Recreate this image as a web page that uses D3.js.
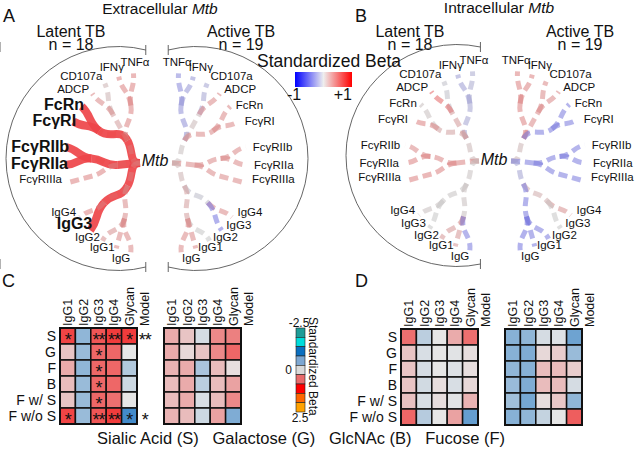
<!DOCTYPE html>
<html><head><meta charset="utf-8">
<script src="https://cdn.jsdelivr.net/npm/d3@7"></script>
<style>body{margin:0;background:#fff}svg{display:block}text{font-family:"Liberation Sans",Arial,sans-serif;fill:#111}</style>
</head><body><svg id="c" width="640" height="449"></svg>
<script>
// ---------- DATA ----------
const leafNames = ["TNFα","IFNγ","CD107a","ADCP","FcRn","FcγRI","FcγRIIb","FcγRIIa","FcγRIIIa","IgG4","IgG3","IgG2","IgG1","IgG"];
const treeGroups = [[["TNFα","IFNγ"],["CD107a","ADCP"],["FcRn","FcγRI"]],[["FcγRIIb","FcγRIIa"],["FcγRIIIa"]],[["IgG4","IgG3"],["IgG2","IgG1","IgG"]]];
const betaExtraLatent = [0.5,0.5,0.15,0.45,0.9,0.9,0.9,0.9,0.5,0.5,0.9,0.4,0.45,0.45];
const sigExtraLatent  = ["FcRn","FcγRI","FcγRIIb","FcγRIIa","IgG3"];
const betaExtraActive = [-0.45,-0.35,-0.25,0.45,0.45,0.45,0.45,0.45,0.45,0.45,-0.6,0.0,0.45,0.45];
const sigExtraActive  = [];
const betaIntraLatent = [-0.2,-0.3,-0.05,0.7,0.05,0.5,0.45,0.5,0.5,0.05,0.0,0.35,0.35,-0.55];
const sigIntraLatent  = [];
const betaIntraActive = [0.5,0.5,0.45,0.45,-0.55,-0.55,-0.55,-0.55,-0.55,0.4,0.0,-0.55,-0.55,-0.6];
const sigIntraActive  = [];

const hmRows = ["S","G","F","B","F w/ S","F w/o S"];
const hmCols = ["IgG1","IgG2","IgG3","IgG4","Glycan","Model"];
const hmC1 = [[0.95,-0.5,0.85,1.0,1.0],[0.2,-0.45,0.75,0.75,0.0],[0.35,-0.5,0.75,0.75,-0.3],[0.25,-0.45,0.75,0.75,-0.15],[0.2,-0.45,0.75,0.7,0.0],[0.95,-0.45,0.85,1.0,-0.95]];
const starsC1 = [["*","","**","**","*","**"],["","","*","","",""],["","","*","","",""],["","","*","","",""],["","","*","","",""],["*","","**","**","*","*"]];
const hmC2 = [[0.35,0.2,-0.1,0.55,0.6],[0.35,0.08,0.2,0.55,0.75],[0.3,0.35,-0.35,0.25,0.05],[0.25,0.35,-0.25,0.25,0.4],[0.25,0.35,-0.08,0.25,0.55],[0.3,0.25,-0.15,0.4,-0.6]];
const hmD1 = [[0.7,-0.25,0.0,0.35,0.7],[0.2,-0.08,0.0,-0.03,0.05],[0.2,-0.1,0.0,-0.05,0.05],[0.2,-0.12,0.05,-0.08,0.08],[0.22,-0.08,0.05,-0.03,0.3],[0.75,-0.28,0.0,0.4,-0.75]];
const hmD2 = [[-0.55,-0.5,-0.1,-0.05,-0.7],[-0.55,-0.6,0.08,0.15,-0.45],[-0.5,-0.55,0.25,0.25,0.15],[-0.45,-0.6,0.25,0.25,-0.1],[-0.4,-0.65,0.05,0.18,-0.5],[-0.55,-0.5,-0.2,0.0,0.8]];
const colorbarColors = ["#1d9c98","#00dcdc","#0a6fc0","#7da7d2","#d9d9d9","#e86b6b","#ff0000","#ff6600","#ffa200"];
const colorbarTicks = ["-2.5","0","2.5"];
const bottomCaption = "Sialic Acid (S)   Galactose (G)   GlcNAc (B)   Fucose (F)";

// ---------- DRAW ----------
const svg = d3.select("#c");
function txt(x, y, s, size, o = {}) {
  const t = svg.append("text").attr("x", x).attr("y", y).attr("font-size", size)
    .attr("text-anchor", o.anchor || "start").text(s);
  if (o.weight) t.attr("font-weight", o.weight);
  if (o.style) t.attr("font-style", o.style);
  return t;
}
function titleWithMtb(x, y, pre) {
  const t = svg.append("text").attr("x", x).attr("y", y).attr("font-size", 15.5).attr("text-anchor", "middle");
  t.append("tspan").text(pre);
  t.append("tspan").attr("font-style", "italic").text("Mtb");
}

txt(3, 22, "A", 18);
txt(355, 22, "B", 18);
txt(2, 287, "C", 18);
txt(355, 287, "D", 18);
titleWithMtb(160, 14, "Extracellular ");
titleWithMtb(499, 13, "Intracellular ");
[[71, "Latent TB", "n = 18"], [241, "Active TB", "n = 19"], [410, "Latent TB", "n = 18"], [580, "Active TB", "n = 19"]]
  .forEach(([x, a, b]) => { txt(x, 36.5, a, 16, {anchor: "middle"}); txt(x, 50, b, 16, {anchor: "middle"}); });

function drawArc(cx, cy, r, yTop, yBot, side) {
  const dxT = side * Math.sqrt(r * r - (yTop - cy) ** 2), dxB = side * Math.sqrt(r * r - (yBot - cy) ** 2);
  const aTop = Math.atan2(yTop - cy, dxT), aBot = Math.atan2(yBot - cy, dxB);
  const p = d3.path();
  p.arc(cx, cy, r, aTop, aBot, side > 0);
  svg.append("path").attr("d", p.toString()).attr("fill", "none").attr("stroke", "#555").attr("stroke-width", 0.9);
  [[cx + dxT, yTop], [cx + dxB, yBot]].forEach(([x, y]) => svg.append("line").attr("x1", x).attr("x2", x)
    .attr("y1", y - 5).attr("y2", y + 5).attr("stroke", "#555").attr("stroke-width", 0.9));
}
drawArc(118, 158.5, 112, 50, 267, 1);
drawArc(196, 158.5, 112, 50, 267, -1);
drawArc(457, 155.5, 111, 47, 264, 1);
drawArc(529, 155.5, 108, 47, 264, -1);

// legend gradient
const treeColor = d3.scaleLinear().domain([-1, 0, 1]).range(["#3c3cf0", "#c4c4c4", "#f03c3c"]);
const defs = svg.append("defs");
const lg = defs.append("linearGradient").attr("id", "sb");
[[0, "#0000ff"], [0.5, "#eeeeee"], [1, "#ff0000"]].forEach(([o, c]) => lg.append("stop").attr("offset", o).attr("stop-color", c));
txt(257, 67, "Standardized Beta", 17.5);
svg.append("rect").attr("x", 295).attr("y", 72).attr("width", 57).attr("height", 15).attr("fill", "url(#sb)");
txt(287, 100, "-1", 16);
txt(352, 100, "+1", 16, {anchor: "end"});

// trees
const groupGap = [1.5, 2.1];
function drawHalf(cx, cy, side, betas, sigs) {
  const rx = 75, ry = 90;
  const betaOf = new Map(leafNames.map((n, i) => [n, betas[i]]));
  const root = d3.hierarchy({children: treeGroups.map((grp, gi) => ({gi, children: grp.map(sub => ({children: sub.map(n => ({name: n}))}))}))});
  root.each(d => {
    const ls = d.leaves();
    d.beta = d3.mean(ls, l => betaOf.get(l.data.name));
    d.sig = ls.some(l => sigs.includes(l.data.name));
  });
  const topOf = d => d.ancestors().find(a => a.depth === 1);
  d3.cluster().size([1, 1]).separation((a, b) => {
    const ta = topOf(a).data.gi, tb = topOf(b).data.gi;
    return ta === tb ? 1 : groupGap[Math.min(ta, tb)];
  })(root);
  const ang = d3.scaleLinear().domain(d3.extent(root.leaves(), d => d.x)).range([5 * Math.PI / 180, 173 * Math.PI / 180]);
  const rad = d3.scaleLinear().domain([0, 1 / 3, 2 / 3, 1]).range([0, 0.3, 0.65, 1]);
  const proj = (a, r) => [cx + side * rx * r * Math.sin(a), cy - ry * r * Math.cos(a)];
  const linkPath = l => {
    const a0 = ang(l.source.x), a1 = ang(l.target.x), r0 = rad(l.source.y), r1 = rad(l.target.y), rm = (r0 + r1) / 2;
    const p = d3.path();
    p.moveTo(...proj(a0, r0));
    p.bezierCurveTo(...proj(a0, rm), ...proj(a1, rm), ...proj(a1, r1));
    return p.toString();
  };
  const links = root.links();
  const g = svg.append("g");
  g.selectAll("path.sig").data(links.filter(l => l.target.sig)).join("path")
    .attr("d", linkPath).attr("fill", "none").attr("stroke", "#ee4449").attr("stroke-opacity", 0.92)
    .attr("stroke-width", 8);
  g.selectAll("path.ns").data(links.filter(l => !(l.target.height === 0 && l.target.sig))).join("path")
    .attr("d", linkPath).attr("fill", "none").attr("stroke", d => treeColor(d.target.beta))
    .attr("stroke-opacity", 0.55).attr("stroke-width", 5).attr("stroke-dasharray", "9,5");
  root.leaves().forEach(l => {
    const a = ang(l.x), bold = l.sig;
    const [px, py] = proj(a, 1);
    const s = Math.abs(Math.sin(a)), c = Math.cos(a);
    const t = svg.append("text").attr("font-size", bold ? 16 : 11.5).attr("font-weight", bold ? "bold" : null).text(l.data.name);
    const w = t.node().getComputedTextLength();
    const f = c > 0 ? Math.min(1, 0.3 + 1.5 * s) : 1;
    const gap = bold ? -3 : (side < 0 ? 5 : 7);
    const start = side < 0 ? px - gap * s - w * f : px + gap * s - w * (1 - f);
    const base = c > 0 ? py + (bold ? 5 : 4) - 12 * Math.pow(c, 4)
                       : py + 4 - 5 * Math.min(1, -c / 0.3) + 12 * Math.pow(-c, 20);
    t.attr("x", start).attr("y", base);
  });
}
drawHalf(140, 163, -1, betaExtraLatent, sigExtraLatent);
drawHalf(172, 163, 1, betaExtraActive, sigExtraActive);
drawHalf(479, 161, -1, betaIntraLatent, sigIntraLatent);
drawHalf(511, 161, 1, betaIntraActive, sigIntraActive);
txt(155, 166, "Mtb", 16, {anchor: "middle", style: "italic"});
txt(494, 165, "Mtb", 16, {anchor: "middle", style: "italic"});

// heatmaps
const hmColor = d3.scaleLinear().domain([-1, 0, 1]).range(["#3a86c8", "#e6e6e6", "#f03c3c"]);
function heatmap(x0, y0, vals, stars, rowLabels) {
  const cw = 15.4;
  const x = d3.scaleBand().domain(hmCols).range([x0, x0 + cw * hmCols.length]);
  const y = d3.scaleBand().domain(hmRows).range([y0, y0 + 96]);
  const g = svg.append("g");
  hmRows.forEach((r, i) => hmCols.slice(0, 5).forEach((c, j) => {
    g.append("rect").attr("x", x(c)).attr("y", y(r)).attr("width", x.bandwidth()).attr("height", y.bandwidth())
      .attr("fill", hmColor(vals[i][j])).attr("stroke", "#111").attr("stroke-width", 1.5);
  }));
  g.append("rect").attr("x", x0).attr("y", y0).attr("width", x.bandwidth() * 5).attr("height", 96)
    .attr("fill", "none").attr("stroke", "#111").attr("stroke-width", 2);
  hmCols.forEach(c => {
    svg.append("text").attr("transform", `translate(${x(c) + x.bandwidth() / 2 + 4.5},${y0 - 2}) rotate(-90)`)
      .attr("font-size", 12.5).text(c);
  });
  if (rowLabels) hmRows.forEach(r => txt(x0 - 4, y(r) + y.bandwidth() / 2 + 5, r, 14, {anchor: "end"}));
  if (stars) hmRows.forEach((r, i) => hmCols.forEach((c, j) => {
    const s = stars[i][j];
    if (s) svg.append("text").attr("x", x(c) + x.bandwidth() / 2).attr("y", y(r) + y.bandwidth() / 2 + 10)
      .attr("text-anchor", "middle").attr("font-size", 18).attr("letter-spacing", -1).text(s);
  }));
}
heatmap(60, 328, hmC1, starsC1, true);
heatmap(164, 328, hmC2, null, false);
heatmap(401, 329, hmD1, null, true);
heatmap(505, 329, hmD2, null, false);

// colorbar
const cb = d3.scaleBand().domain(d3.range(colorbarColors.length)).range([328, 412]);
colorbarColors.forEach((c, i) => svg.append("rect").attr("x", 296).attr("y", cb(i)).attr("width", 9).attr("height", cb.bandwidth())
  .attr("fill", c).attr("stroke", "#222").attr("stroke-width", 0.6));
txt(299, 327, colorbarTicks[0], 12, {anchor: "middle"});
txt(292, 374, colorbarTicks[1], 12, {anchor: "end"});
txt(300, 422, colorbarTicks[2], 12, {anchor: "middle"});
svg.append("text").attr("transform", "translate(309,317) rotate(90)").attr("font-size", 12).text("Standardized Beta");

svg.append("text").attr("x", 301).attr("y", 444).attr("text-anchor", "middle").attr("font-size", 16.5)
  .style("white-space", "pre").text(bottomCaption);
</script></body></html>
